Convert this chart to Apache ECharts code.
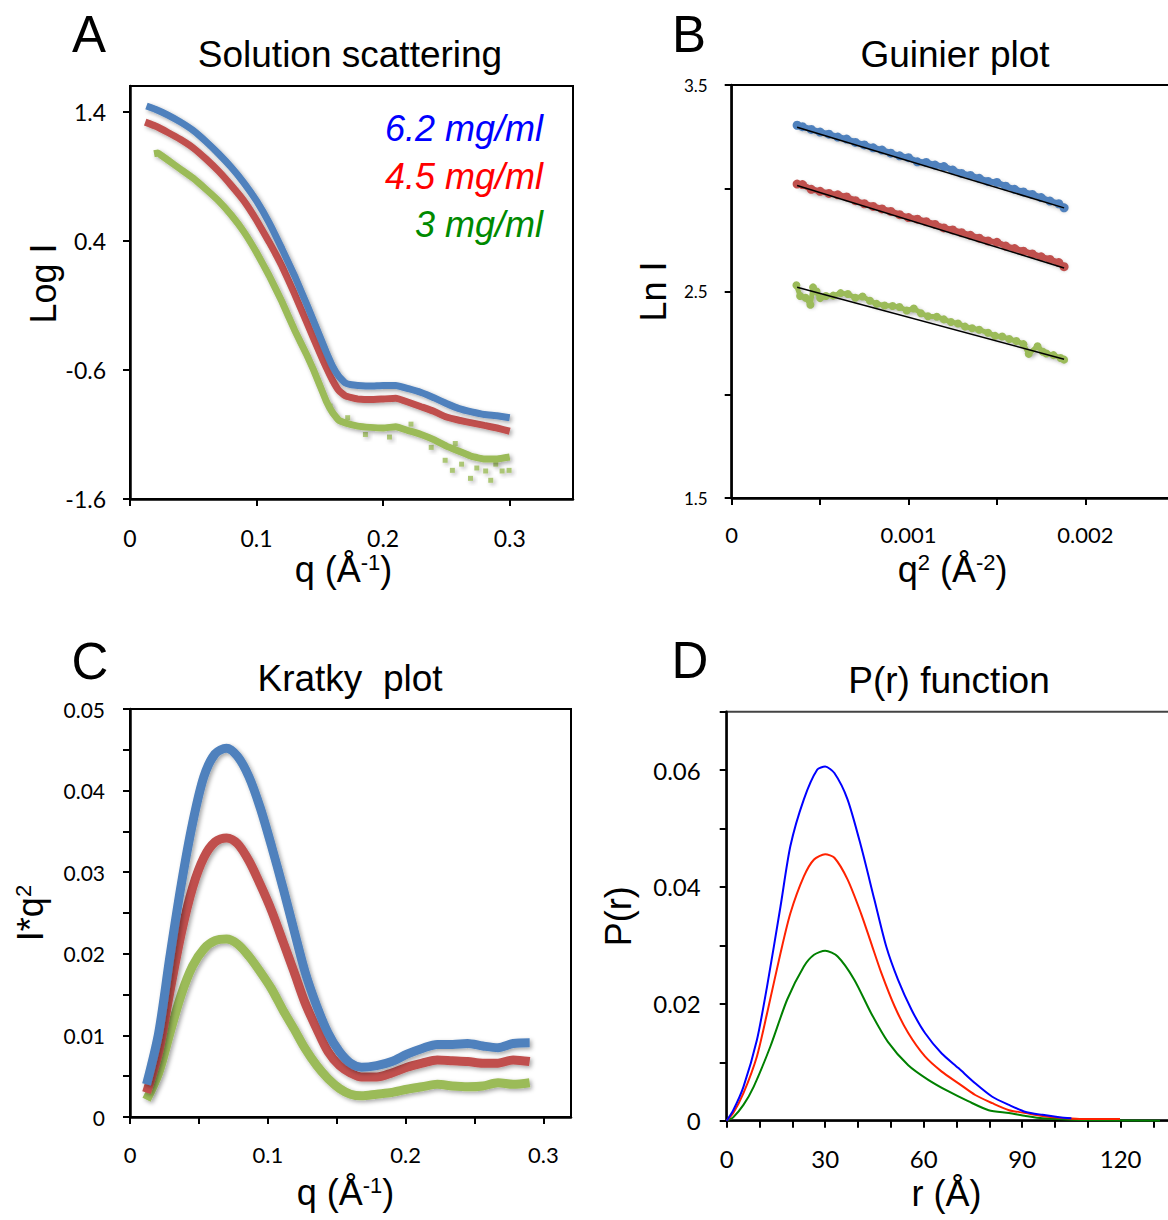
<!DOCTYPE html>
<html><head><meta charset="utf-8">
<script src="https://cdn.jsdelivr.net/npm/echarts@6/dist/echarts.min.js"></script>
<style>html,body{margin:0;padding:0;background:#fff}#c{width:1168px;height:1220px}</style>
</head><body><div id="c"></div>
<script>
// ---------- Panel A : Solution scattering (q, log I) ----------
const aQ62  = [0.013,0.02,0.03,0.04,0.05,0.06,0.07,0.08,0.09,0.10,0.11,0.12,0.13,0.14,0.15,0.155,0.16,0.165,0.17,0.175,0.18,0.19,0.20,0.21,0.22,0.23,0.24,0.25,0.26,0.27,0.28,0.29,0.30];
const aLog62 = [1.445,1.42,1.375,1.32,1.255,1.17,1.075,0.97,0.85,0.71,0.54,0.34,0.13,-0.10,-0.34,-0.46,-0.57,-0.65,-0.70,-0.715,-0.72,-0.725,-0.72,-0.72,-0.745,-0.775,-0.815,-0.86,-0.90,-0.925,-0.945,-0.955,-0.97];
const aQ45  = [0.012,0.02,0.03,0.04,0.05,0.06,0.07,0.08,0.09,0.10,0.11,0.12,0.13,0.14,0.15,0.155,0.16,0.165,0.17,0.175,0.18,0.19,0.20,0.21,0.22,0.23,0.24,0.25,0.26,0.27,0.28,0.29,0.30];
const aLog45 = [1.32,1.29,1.24,1.185,1.12,1.035,0.94,0.83,0.71,0.56,0.39,0.205,-0.01,-0.24,-0.47,-0.58,-0.68,-0.76,-0.80,-0.815,-0.825,-0.83,-0.825,-0.82,-0.85,-0.885,-0.92,-0.965,-0.99,-1.01,-1.03,-1.05,-1.075];
const aQ3   = [0.019,0.022,0.025,0.03,0.04,0.05,0.06,0.07,0.08,0.09,0.10,0.11,0.12,0.13,0.14,0.145,0.15,0.155,0.16,0.165,0.17,0.18,0.19,0.20,0.21,0.22,0.23,0.24,0.25,0.26,0.27,0.28,0.29,0.30];
const aLog3  = [1.075,1.08,1.06,1.025,0.955,0.885,0.80,0.71,0.60,0.47,0.31,0.13,-0.07,-0.29,-0.49,-0.60,-0.72,-0.84,-0.93,-0.99,-1.01,-1.035,-1.045,-1.05,-1.04,-1.07,-1.10,-1.14,-1.19,-1.23,-1.27,-1.29,-1.29,-1.275];
// scattered low-concentration points off the main band (tail)
const aQ3out  = [0.158,0.172,0.186,0.205,0.222,0.238,0.249,0.2547,0.257,0.262,0.269,0.274,0.281,0.285,0.289,0.294,0.2995];
const aLog3out = [-0.88,-0.97,-1.10,-1.12,-1.02,-1.20,-1.30,-1.378,-1.17,-1.33,-1.44,-1.36,-1.383,-1.455,-1.33,-1.383,-1.378];
const aXTicks = [0,0.1,0.2,0.3];
const aYTicks = [-1.6,-0.6,0.4,1.4];

// ---------- Panel B : Guinier plot (q^2, ln I) ----------
const bQ2 = [0.00037,0.00040,0.00045,0.00050,0.00055,0.00060,0.00065,0.00070,0.00075,0.00080,0.00085,0.00090,0.00095,0.00100,0.00105,0.00110,0.00115,0.00120,0.00125,0.00130,0.00135,0.00140,0.00145,0.00150,0.00155,0.00160,0.00165,0.00170,0.00175,0.00180,0.00185,0.00188];
const bLn62 = [3.305,3.298,3.285,3.272,3.262,3.248,3.238,3.222,3.210,3.196,3.185,3.170,3.157,3.148,3.128,3.125,3.112,3.105,3.088,3.072,3.062,3.048,3.033,3.028,3.010,2.995,2.982,2.970,2.955,2.938,2.925,2.905];
const bLn45 = [3.020,3.018,2.995,2.985,2.975,2.968,2.958,2.940,2.925,2.912,2.900,2.888,2.872,2.858,2.850,2.838,2.825,2.808,2.798,2.785,2.772,2.758,2.745,2.738,2.720,2.708,2.695,2.682,2.668,2.655,2.640,2.620];
const bQ2g = [0.000366,0.000387,0.000418,0.000445,0.00046,0.00048,0.0005,0.000533,0.000574,0.000616,0.000657,0.000699,0.00074,0.000782,0.00082,0.000865,0.00091,0.000949,0.00099,0.00103,0.00107,0.00111,0.00116,0.0012,0.00124,0.00128,0.00132,0.00136,0.0014,0.00145,0.00149,0.00153,0.00157,0.00161,0.00165,0.00168,0.00173,0.00176,0.00178,0.00182,0.00186,0.00188];
const bLn3  = [2.530,2.478,2.470,2.436,2.520,2.500,2.468,2.478,2.480,2.492,2.488,2.470,2.476,2.455,2.440,2.432,2.430,2.425,2.408,2.418,2.395,2.380,2.378,2.365,2.352,2.345,2.330,2.322,2.315,2.300,2.285,2.282,2.270,2.260,2.245,2.198,2.235,2.208,2.200,2.192,2.178,2.170];
const bFitQ2 = [0.00037,0.00188];
const bFit62 = [3.295,2.905];
const bFit45 = [3.013,2.614];
const bFit3  = [2.521,2.172];
const bXTicks = [0,0.0005,0.001,0.0015,0.002];
const bXLabels = [0,0.001,0.002];
const bYTicks = [1.5,2.0,2.5,3.0,3.5];
const bYLabels = [1.5,2.5,3.5];

// ---------- Panel C : Kratky plot (q, I*q^2) ----------
const cQ = [0.012,0.0208,0.029,0.0372,0.0454,0.0536,0.0617,0.07,0.078,0.0863,0.0945,0.1027,0.111,0.119,0.127,0.1355,0.1437,0.152,0.16,0.168,0.179,0.19,0.201,0.212,0.223,0.234,0.245,0.256,0.267,0.278,0.29];
const cI62 = [0.0040,0.0103,0.0197,0.0285,0.0360,0.0417,0.0445,0.0452,0.0442,0.0417,0.0379,0.0332,0.0281,0.0229,0.0178,0.0136,0.0103,0.0080,0.0066,0.0061,0.0063,0.0068,0.0077,0.0084,0.0089,0.0089,0.0090,0.0087,0.0085,0.0090,0.0091];
const cI45 = [0.0030,0.0080,0.0154,0.0225,0.0281,0.0318,0.0337,0.0342,0.0335,0.0314,0.0285,0.0253,0.0215,0.0178,0.0140,0.0108,0.0080,0.0063,0.0054,0.0049,0.0049,0.0054,0.0061,0.0066,0.0070,0.0069,0.0068,0.0066,0.0066,0.0070,0.0068];
const cI3  = [0.0021,0.0054,0.0103,0.0150,0.0185,0.0206,0.0216,0.0218,0.0212,0.0197,0.0178,0.0157,0.0131,0.0108,0.0084,0.0063,0.0047,0.0035,0.0028,0.0026,0.0028,0.0030,0.0034,0.0037,0.0040,0.0038,0.0037,0.0038,0.0042,0.0040,0.0042];
const cXTicks = [0,0.05,0.1,0.15,0.2,0.25,0.3];
const cXLabels = [0,0.1,0.2,0.3];
const cYTicks = [0,0.005,0.01,0.015,0.02,0.025,0.03,0.035,0.04,0.045,0.05];
const cYLabels = [0,0.01,0.02,0.03,0.04,0.05];

// ---------- Panel D : P(r) function ----------
const dR62 = [0,2,5.1,9.2,12.3,16.4,19.4,23.5,27.6,30,32.8,36.8,40.9,45,48.6,52.2,56.3,60.4,65.5,70.6,75.7,80.9,86,91.1,96.2,101.3,105];
const dP62 = [0,0.0018,0.0058,0.0138,0.023,0.0367,0.047,0.055,0.0601,0.0606,0.0595,0.055,0.047,0.0378,0.0298,0.0241,0.019,0.015,0.0115,0.009,0.0064,0.0041,0.0027,0.0015,0.001,0.0006,0.0004];
const dR45 = [0,2,5.1,9.2,12.3,16.4,19.4,23.5,26.6,30,32.8,36.8,40.9,44,47.1,51.2,55.3,60.4,65.5,70.6,75.7,80.9,86,91.1,96.2,101.3,107.5,119.8];
const dP45 = [0,0.0013,0.0047,0.011,0.0184,0.0287,0.0355,0.0418,0.0447,0.0456,0.045,0.0413,0.0355,0.0304,0.0253,0.0195,0.015,0.011,0.0084,0.0064,0.0044,0.003,0.0018,0.0013,0.0008,0.0005,0.0003,0.0003];
const dR3  = [0,2,5.1,8.2,13.3,18.4,23.5,26.6,30,33.8,38.9,44,49.1,55.3,61.4,67.6,73.7,79.8,86,91.1,96.2,108.5,132];
const dP3  = [0,0.0006,0.0027,0.0058,0.0127,0.0207,0.0264,0.0284,0.0291,0.0281,0.0241,0.0184,0.0135,0.0095,0.007,0.005,0.0033,0.0018,0.0013,0.0008,0.0004,0.0001,0];
const dXTicks = [0,10,20,30,40,50,60,70,80,90,100,110,120,130];
const dXLabels = [0,30,60,90,120];
const dYTicks = [0,0.01,0.02,0.03,0.04,0.05,0.06,0.07];
const dYLabels = [0,0.02,0.04,0.06];

const seriesNames = ['6.2 mg/ml','4.5 mg/ml','3 mg/ml'];

// ---------- styling ----------
const FT = '"Liberation Sans", Arial, sans-serif';
const FL = 'Lato, "Open Sans", sans-serif';
const XL = {blue:'#4f81bd', red:'#c0504d', green:'#9bbb59'};
const zip = (xs, ys) => xs.map((x, i) => [x, ys[i]]);
const shadow = {shadowColor:'rgba(0,0,0,0.35)', shadowBlur:4, shadowOffsetX:2, shadowOffsetY:2};

function axis(gi, o) {
  return {
    type:'value', gridIndex:gi, min:o.min, max:o.max, interval:o.interval,
    splitLine:{show:false},
    axisLine:{show:true, onZero:false, lineStyle:{color:'#000', width:2.5}},
    axisTick:{show:true, inside:false, length:7, customValues:o.ticks, lineStyle:{color:'#000', width:2}},
    axisLabel:{show:true, customValues:o.labels, margin:o.margin, color:'#000', fontFamily:FL, fontSize:o.fs,
      formatter:o.fmt || (v => String(v))},
    name:o.name, nameLocation:'middle', nameGap:o.nameGap, nameRotate:o.rot || 0,
    nameTextStyle:{color:'#000', fontFamily:FT, fontSize:36, padding:o.pad || 0,
      rich:{n:{fontFamily:FT, fontSize:36, color:'#000'}, s:{fontFamily:FT, fontSize:22, color:'#000', verticalAlign:'top'}}}
  };
}
const f1 = v => (Math.abs(v) < 1e-9 ? '0' : v.toFixed(1));
const f2 = v => (Math.abs(v) < 1e-9 ? '0' : v.toFixed(2));

const option = {
  animation:false,
  backgroundColor:'#fff',
  grid:[
    {left:130, top:86, width:443, height:413, show:true, borderColor:'#000', borderWidth:2, backgroundColor:'transparent', outerBoundsMode:'none'},
    {left:731.7, top:85, width:442, height:413, show:true, borderColor:'#000', borderWidth:2, backgroundColor:'transparent', outerBoundsMode:'none'},
    {left:130, top:709, width:441, height:408, show:true, borderColor:'#000', borderWidth:2, backgroundColor:'transparent', outerBoundsMode:'none'},
    {left:726.7, top:711.7, width:459.6, height:409, show:true, borderColor:'#444', borderWidth:2, backgroundColor:'transparent', outerBoundsMode:'none'}
  ],
  xAxis:[
    axis(0,{min:0,max:0.35,interval:0.1,ticks:aXTicks,labels:aXTicks,margin:27,fs:23,name:'{n|q (Å}{s|-1}{n|)}',nameGap:52,pad:[0,16,0,0]}),
    axis(1,{min:0,max:0.0025,interval:0.0005,ticks:bXTicks,labels:bXLabels,margin:25,fs:22,name:'{n|q}{s|2}{n| (Å}{s|-2}{n|)}',nameGap:53}),
    axis(2,{min:0,max:0.32,interval:0.05,ticks:cXTicks,labels:cXLabels,margin:26,fs:22,name:'{n|q (Å}{s|-1}{n|)}',nameGap:57,pad:[0,10,0,0]}),
    axis(3,{min:0,max:140,interval:10,ticks:dXTicks,labels:dXLabels,margin:26,fs:24,name:'r (Å)',nameGap:55,pad:[0,20,0,0]})
  ],
  yAxis:[
    axis(0,{min:-1.6,max:1.6,interval:0.2,ticks:aYTicks,labels:aYTicks,margin:24,fs:23,fmt:f1,name:'Log I',nameGap:68,rot:90,pad:[0,0,0,18]}),
    axis(1,{min:1.5,max:3.5,interval:0.5,ticks:bYTicks,labels:bYLabels,margin:24,fs:17,fmt:f1,name:'Ln I',nameGap:60,rot:90}),
    axis(2,{min:0,max:0.05,interval:0.005,ticks:cYTicks,labels:cYLabels,margin:25,fs:21,fmt:f2,name:'{n|I*q}{s|2}',nameGap:82,rot:90}),
    axis(3,{min:0,max:0.07,interval:0.01,ticks:dYTicks,labels:dYLabels,margin:26,fs:24,fmt:f2,name:'P(r)',nameGap:90,rot:90})
  ],
  legend:{
    orient:'vertical', align:'right', right:615, top:105, itemGap:12, itemWidth:0, itemHeight:30,
    selectedMode:false, icon:'none',
    textStyle:{fontFamily:FT, fontSize:36, fontStyle:'italic'},
    data:[
      {name:seriesNames[0], icon:'none', textStyle:{color:'#0000ff'}},
      {name:seriesNames[1], icon:'none', textStyle:{color:'#ff0000'}},
      {name:seriesNames[2], icon:'none', textStyle:{color:'#008a00'}}
    ]
  },
  graphic:[
    {type:'text', x:89, y:34, style:{text:'A', font:'51px '+FT, fill:'#000', align:'center', verticalAlign:'middle', textAlign:'center', textVerticalAlign:'middle'}},
    {type:'text', x:350, y:54, style:{text:'Solution scattering', font:'37px '+FT, fill:'#000', align:'center', verticalAlign:'middle', textAlign:'center', textVerticalAlign:'middle'}},
    {type:'text', x:689, y:34, style:{text:'B', font:'51px '+FT, fill:'#000', align:'center', verticalAlign:'middle', textAlign:'center', textVerticalAlign:'middle'}},
    {type:'text', x:955, y:54, style:{text:'Guinier plot', font:'37px '+FT, fill:'#000', align:'center', verticalAlign:'middle', textAlign:'center', textVerticalAlign:'middle'}},
    {type:'text', x:90, y:661, style:{text:'C', font:'51px '+FT, fill:'#000', align:'center', verticalAlign:'middle', textAlign:'center', textVerticalAlign:'middle'}},
    {type:'text', x:350, y:678, style:{text:'Kratky  plot', font:'37px '+FT, fill:'#000', align:'center', verticalAlign:'middle', textAlign:'center', textVerticalAlign:'middle'}},
    {type:'text', x:690, y:660, style:{text:'D', font:'51px '+FT, fill:'#000', align:'center', verticalAlign:'middle', textAlign:'center', textVerticalAlign:'middle'}},
    {type:'text', x:949, y:680, style:{text:'P(r) function', font:'37px '+FT, fill:'#000', align:'center', verticalAlign:'middle', textAlign:'center', textVerticalAlign:'middle'}}
  ],
  series:[
    // Panel A
    {name:'A 3 scatter', type:'scatter', xAxisIndex:0, yAxisIndex:0, data:zip(aQ3out,aLog3out), symbol:'rect', symbolSize:5, itemStyle:Object.assign({color:XL.green}, shadow), z:2},
    {name:seriesNames[2], type:'line', xAxisIndex:0, yAxisIndex:0, data:zip(aQ3,aLog3), symbol:'none', smooth:0.1, lineStyle:Object.assign({color:XL.green, width:7}, shadow), color:XL.green, z:3},
    {name:seriesNames[1], type:'line', xAxisIndex:0, yAxisIndex:0, data:zip(aQ45,aLog45), symbol:'none', smooth:0.1, lineStyle:Object.assign({color:XL.red, width:7}, shadow), color:XL.red, z:4},
    {name:seriesNames[0], type:'line', xAxisIndex:0, yAxisIndex:0, data:zip(aQ62,aLog62), symbol:'none', smooth:0.1, lineStyle:Object.assign({color:XL.blue, width:7}, shadow), color:XL.blue, z:5},
    // Panel B
    {name:'B 6.2', type:'line', xAxisIndex:1, yAxisIndex:1, data:zip(bQ2,bLn62), symbol:'circle', symbolSize:9, showSymbol:true, lineStyle:Object.assign({color:XL.blue, width:6}, shadow), itemStyle:{color:XL.blue}},
    {name:'B 4.5', type:'line', xAxisIndex:1, yAxisIndex:1, data:zip(bQ2,bLn45), symbol:'circle', symbolSize:9, showSymbol:true, lineStyle:Object.assign({color:XL.red, width:6}, shadow), itemStyle:{color:XL.red}},
    {name:'B 3', type:'line', xAxisIndex:1, yAxisIndex:1, data:zip(bQ2g,bLn3), symbol:'circle', symbolSize:8, showSymbol:true, lineStyle:Object.assign({color:XL.green, width:5}, shadow), itemStyle:{color:XL.green}},
    {name:'fit 6.2', type:'line', xAxisIndex:1, yAxisIndex:1, data:zip(bFitQ2,bFit62), symbol:'none', lineStyle:{color:'#000', width:1.5}, z:6},
    {name:'fit 4.5', type:'line', xAxisIndex:1, yAxisIndex:1, data:zip(bFitQ2,bFit45), symbol:'none', lineStyle:{color:'#000', width:1.5}, z:6},
    {name:'fit 3', type:'line', xAxisIndex:1, yAxisIndex:1, data:zip(bFitQ2,bFit3), symbol:'none', lineStyle:{color:'#000', width:1.5}, z:6},
    // Panel C
    {name:'C 3', type:'line', xAxisIndex:2, yAxisIndex:2, data:zip(cQ,cI3), symbol:'none', smooth:0.3, lineStyle:Object.assign({color:XL.green, width:9}, shadow), z:3},
    {name:'C 4.5', type:'line', xAxisIndex:2, yAxisIndex:2, data:zip(cQ,cI45), symbol:'none', smooth:0.3, lineStyle:Object.assign({color:XL.red, width:9}, shadow), z:4},
    {name:'C 6.2', type:'line', xAxisIndex:2, yAxisIndex:2, data:zip(cQ,cI62), symbol:'none', smooth:0.3, lineStyle:Object.assign({color:XL.blue, width:9}, shadow), z:5},
    // Panel D
    {name:'D 3', type:'line', xAxisIndex:3, yAxisIndex:3, data:zip(dR3,dP3), symbol:'none', smooth:0.25, lineStyle:{color:'#008000', width:2}},
    {name:'D 4.5', type:'line', xAxisIndex:3, yAxisIndex:3, data:zip(dR45,dP45), symbol:'none', smooth:0.25, lineStyle:{color:'#ff2200', width:2}},
    {name:'D 6.2', type:'line', xAxisIndex:3, yAxisIndex:3, data:zip(dR62,dP62), symbol:'none', smooth:0.25, lineStyle:{color:'#0000ff', width:2}}
  ]
};
const chart = echarts.init(document.getElementById('c'), null, {renderer:'svg', width:1168, height:1220});
chart.setOption(option);
</script>
</body></html>
